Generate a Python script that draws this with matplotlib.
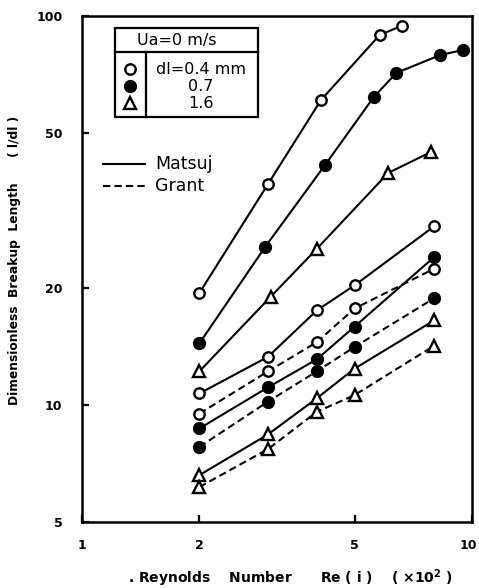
import matplotlib
matplotlib.use('Agg')
import matplotlib.pyplot as plt
import matplotlib.transforms as mtrans
from matplotlib.patches import Rectangle
from matplotlib.lines import Line2D

# ── data ─────────────────────────────────────
re_a = [2, 3, 4.1, 5.8, 6.6]
len_a = [19.4, 37.0, 60.8, 89.4, 94.3]           # dl=0.4, Matsui (upper)
re_b = [2, 2.95, 4.2, 5.6, 6.4, 8.3, 9.5]
len_b = [14.4, 25.5, 41.4, 61.9, 71.4, 79.4, 81.8]  # dl=0.7, Matsui (upper)
re_c = [2, 3.05, 4, 6.1, 7.85]
len_c = [12.2, 19.0, 25.2, 39.5, 44.7]           # dl=1.6, Matsui (upper)

re_low = [2, 3, 4, 5, 8]
open_solid = [10.7, 13.3, 17.5, 20.3, 28.8]
open_dash = [9.5, 12.2, 14.5, 17.7, 22.4]
fill_solid = [8.7, 11.1, 13.1, 15.9, 24.0]
fill_dash = [7.8, 10.2, 12.2, 14.1, 18.8]
tri_solid = [6.6, 8.4, 10.4, 12.4, 16.5]
tri_dash = [6.15, 7.7, 9.6, 10.6, 14.2]

xticks = [1, 2, 5, 10]
yticks = [5, 10, 20, 50, 100]

W, H = 479, 588

def px(x, y):
    return x / W, 1 - y / H

fig = plt.figure(figsize=(W / 100, H / 100), dpi=100)
ax = fig.add_axes([82 / W, 1 - 522 / H, (472 - 82) / W, (522 - 16) / H])
ax.set_xscale('log')
ax.set_yscale('log')
ax.set_xlim(1, 10)
ax.set_ylim(5, 100)

lw = 1.5
dash = (0, (3.5, 2))
mk_open = dict(marker='o', ms=7.5, mfc='white', mec='black', mew=1.7)
mk_fill = dict(marker='o', ms=8.5, mfc='black', mec='black')
mk_tri = dict(marker='^', ms=8, mfc='white', mec='black', mew=1.7)

ax.plot(re_a, len_a, '-', color='black', lw=lw, **mk_open)
ax.plot(re_b, len_b, '-', color='black', lw=lw, **mk_fill)
ax.plot(re_c, len_c, '-', color='black', lw=lw, **mk_tri)
ax.plot(re_low, open_solid, '-', color='black', lw=lw, **mk_open)
ax.plot(re_low, open_dash, linestyle=dash, color='black', lw=lw, **mk_open)
ax.plot(re_low, fill_solid, '-', color='black', lw=lw, **mk_fill)
ax.plot(re_low, fill_dash, linestyle=dash, color='black', lw=lw, **mk_fill)
ax.plot(re_low, tri_solid, '-', color='black', lw=lw, **mk_tri)
ax.plot(re_low, tri_dash, linestyle=dash, color='black', lw=lw, **mk_tri)

ax.minorticks_off()
ax.set_xticks(xticks)
ax.set_xticklabels([str(t) for t in xticks])
ax.set_yticks(yticks)
ax.set_yticklabels([str(t) for t in yticks])
ax.tick_params(direction='in', length=5, width=1.6, pad=14, labelsize=9)
ax.tick_params(axis='x', pad=12)
for lab in ax.get_xticklabels() + ax.get_yticklabels():
    lab.set_fontweight('heavy')
# last x label sits at the figure edge: nudge it left so it stays inside
last = ax.get_xticklabels()[-1]
last.set_transform(last.get_transform() + mtrans.ScaledTranslation(-4 / 100, 0, fig.dpi_scale_trans))
for s in ax.spines.values():
    s.set_linewidth(1.8)

# legend table (top left)
x0, y0, x1, y1 = 115, 28, 258, 117
fig.patches.append(Rectangle(px(x0, y1), (x1 - x0) / W, (y1 - y0) / H,
                             transform=fig.transFigure, fill=False, lw=1.6, ec='black'))
fig.add_artist(Line2D([x0 / W, x1 / W], [1 - 52 / H] * 2, transform=fig.transFigure, color='black', lw=1.6))
fig.add_artist(Line2D([146 / W] * 2, [1 - 52 / H, 1 - y1 / H], transform=fig.transFigure, color='black', lw=1.6))
fig.text(*px(177, 40), 'Ua=0 m/s', fontsize=11.5, ha='center', va='center')
rows = [(69, mk_open, 'dl=0.4 mm'), (86, mk_fill, '0.7'), (103, mk_tri, '1.6')]
for yy, mk, lab in rows:
    fig.add_artist(Line2D([130 / W], [1 - yy / H], transform=fig.transFigure, ls='none', **mk))
    fig.text(*px(201, yy), lab, fontsize=11.5, ha='center', va='center')

fig.add_artist(Line2D([103 / W, 145 / W], [1 - 164 / H] * 2, transform=fig.transFigure, color='black', lw=lw))
fig.add_artist(Line2D([103 / W, 145 / W], [1 - 186 / H] * 2, transform=fig.transFigure, color='black', lw=lw, ls=dash))
fig.text(*px(155, 164), 'Matsuj', fontsize=12.5, ha='left', va='center')
fig.text(*px(155, 186), 'Grant', fontsize=12.5, ha='left', va='center')

# axis labels
fig.text(*px(15, 260), 'Dimensionless  Breakup  Length      ( l/dl )', rotation=90,
         fontsize=8.8, fontweight='heavy', ha='center', va='center')
fig.text(*px(128, 578), '. Reynolds    Number      Re ( i )    ( ×10$^{\\mathbf{2}}$ )',
         fontsize=10, fontweight='heavy', ha='left', va='center')

plt.savefig('out.png', dpi=100)
